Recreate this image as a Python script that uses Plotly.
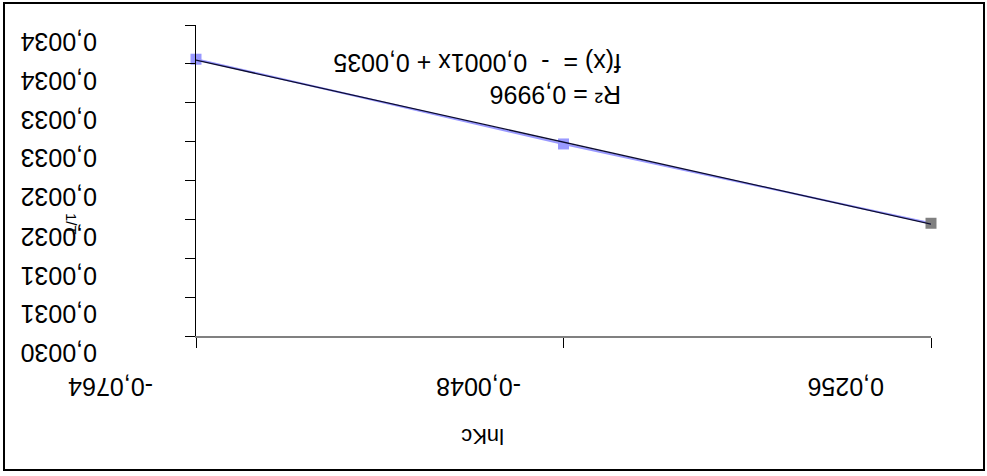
import numpy as np
import plotly.graph_objects as go

# lnKc categories and measured 1/T values
lnkc_labels = ["-0,0764", "-0,0048", "0,0256"]
inv_t = [0.003356, 0.003247, 0.003145]
point_colors = ["#9999FF", "#9999FF", "#808080"]

y_tick_values = [0.0030, 0.00305, 0.0031, 0.00315, 0.0032, 0.00325, 0.0033, 0.00335, 0.0034]
y_tick_labels = ["0,0030", "0,0031", "0,0031", "0,0032", "0,0032",
                 "0,0033", "0,0033", "0,0034", "0,0034"]

W, H = 987, 476
ML, MR, MT, MB = 196, 56, 25, 140
PW, PH = W - ML - MR, H - MT - MB
FONT = "Liberation Sans, Arial, sans-serif"


def px_x(px):
    return (px - ML) / PW


def px_y(py):
    return (H - MB - py) / PH


def comma(v, d=4):
    return f"{v:.{d}f}".replace(".", ",")


# linear trend over the category index 1..n
idx = np.arange(1, len(inv_t) + 1)
vals = np.array(inv_t)
slope, intercept = np.polyfit(idx, vals, 1)
trend = slope * idx + intercept
r2 = 1 - np.sum((vals - trend) ** 2) / np.sum((vals - vals.mean()) ** 2)
sign = "- " if slope < 0 else ""
eq_text = f"R² = {comma(r2)}<br>f(x) =  {sign} {comma(abs(slope))}x + {comma(intercept)}"

fig = go.Figure()
fig.add_trace(go.Scatter(
    x=lnkc_labels, y=inv_t, mode="lines+markers",
    line=dict(color="#9999FF", width=2),
    marker=dict(symbol="square", size=11, color=point_colors, line=dict(width=0)),
    cliponaxis=False, showlegend=False,
))
fig.add_trace(go.Scatter(
    x=lnkc_labels, y=trend, mode="lines",
    line=dict(color="#0c0c30", width=1.3),
    cliponaxis=False, showlegend=False,
))

# upside-down tick labels placed next to their ticks
label_notes = []
for lab in lnkc_labels:
    label_notes.append(dict(
        text=lab, xref="x", yref="paper", x=lab, y=px_y(387),
        xshift=-85, xanchor="center", yanchor="middle",
        showarrow=False, textangle=180, font=dict(size=25)))
for val, lab in zip(y_tick_values, y_tick_labels):
    label_notes.append(dict(
        text=lab, xref="paper", yref="y", x=px_x(99), y=val,
        yshift=-17, xanchor="right", yanchor="middle",
        showarrow=False, textangle=180, font=dict(size=25)))

fig.update_layout(
    width=W, height=H,
    margin=dict(l=ML, r=MR, t=MT, b=MB, pad=0),
    paper_bgcolor="white", plot_bgcolor="white",
    font=dict(family=FONT, color="black", size=24),
    xaxis=dict(
        type="category", range=[0, len(lnkc_labels) - 1],
        showgrid=False, zeroline=False,
        showline=True, linecolor="#808080", linewidth=2,
        ticks="outside", ticklen=10, tickcolor="black", tickwidth=1,
        showticklabels=False,
    ),
    yaxis=dict(
        range=[y_tick_values[0], y_tick_values[-1]],
        tickvals=y_tick_values,
        showgrid=False, zeroline=False,
        showline=True, linecolor="black", linewidth=1,
        ticks="outside", ticklen=10, tickcolor="black", tickwidth=1,
        showticklabels=False,
    ),
    annotations=label_notes + [
        dict(text=eq_text, xref="paper", yref="paper",
             x=px_x(623), y=px_y(79), xanchor="right", yanchor="middle",
             showarrow=False, textangle=180, align="left",
             font=dict(size=25)),
        dict(text="lnKc", xref="paper", yref="paper",
             x=px_x(483), y=px_y(437), xanchor="center", yanchor="middle",
             showarrow=False, textangle=180, font=dict(size=22)),
        dict(text="1/T", xref="paper", yref="paper",
             x=px_x(72), y=px_y(224), xanchor="center", yanchor="middle",
             showarrow=False, textangle=90, font=dict(size=15)),
    ],
    shapes=[
        dict(type="rect", xref="paper", yref="paper",
             x0=px_x(4), x1=px_x(984), y0=px_y(3), y1=px_y(470),
             line=dict(color="black", width=2), fillcolor="rgba(0,0,0,0)",
             layer="below"),
    ],
)

fig.write_html("out.html")
